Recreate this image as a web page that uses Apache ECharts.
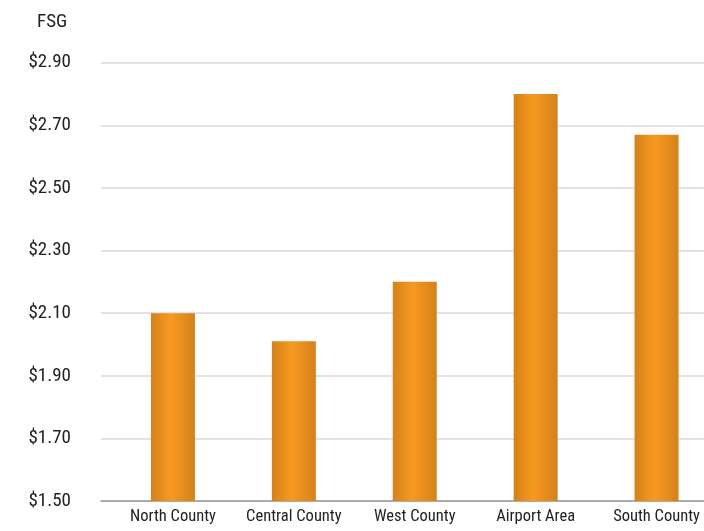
<!DOCTYPE html>
<html><head><meta charset="utf-8">
<script src="https://cdn.jsdelivr.net/npm/echarts@6/dist/echarts.min.js"></script>
<style>html,body{margin:0;padding:0;background:#fff}#c{width:704px;height:531px}</style>
</head><body><div id="c"></div>
<script>
const categories = ["North County", "Central County", "West County", "Airport Area", "South County"];
const values = [2.10, 2.01, 2.20, 2.80, 2.67];
const yMin = 1.5, yMax = 2.9, yStep = 0.2;
const yTitle = "FSG";

const FONT = '"Roboto Condensed", "DejaVu Sans Condensed", sans-serif';
const chart = echarts.init(document.getElementById('c'), null, {renderer: 'canvas'});
const grad = new echarts.graphic.LinearGradient(0, 0, 1, 0, [
  {offset: 0, color: '#d4821c'},
  {offset: 0.45, color: '#f7991f'},
  {offset: 1, color: '#d4821c'}
]);
chart.setOption({
  animation: false,
  title: {text: yTitle, left: 32, top: 8, textStyle: {fontFamily: FONT, fontSize: 19, fontWeight: 'normal', color: '#222'}},
  grid: [
    {left: 101, right: 0, top: 62.7, bottom: 30, containLabel: false, outerBoundsMode: 'none'},
    {left: 112.5, right: -13, top: 62.7, bottom: 30, containLabel: false, outerBoundsMode: 'none'}
  ],
  xAxis: [
    {type: 'value', gridIndex: 0, min: 0, max: 1, show: true,
     axisLine: {show: true, lineStyle: {color: '#999', width: 1.5}}, axisTick: {show: false}, axisLabel: {show: false}, splitLine: {show: false}},
    {type: 'category', gridIndex: 1, data: categories,
     axisLine: {show: false}, axisTick: {show: false},
     axisLabel: {margin: 7, interval: 0, fontFamily: FONT, fontSize: 16.5, color: '#222'}}
  ],
  yAxis: [
    {type: 'value', gridIndex: 0, min: yMin, max: yMax, interval: yStep,
     axisLine: {show: false}, axisTick: {show: false},
     axisLabel: {margin: 30, fontFamily: FONT, fontSize: 19, color: '#222',
       formatter: v => '$' + v.toFixed(2)},
     splitLine: {show: true, lineStyle: {color: '#dadada', width: 1.6}}},
    {type: 'value', gridIndex: 1, min: yMin, max: yMax, interval: yStep,
     axisLine: {show: false}, axisTick: {show: false}, axisLabel: {show: false}, splitLine: {show: false}}
  ],
  series: [{
    type: 'bar', xAxisIndex: 1, yAxisIndex: 1, data: values, barWidth: 44,
    itemStyle: {color: grad}
  }]
});
</script></body></html>
